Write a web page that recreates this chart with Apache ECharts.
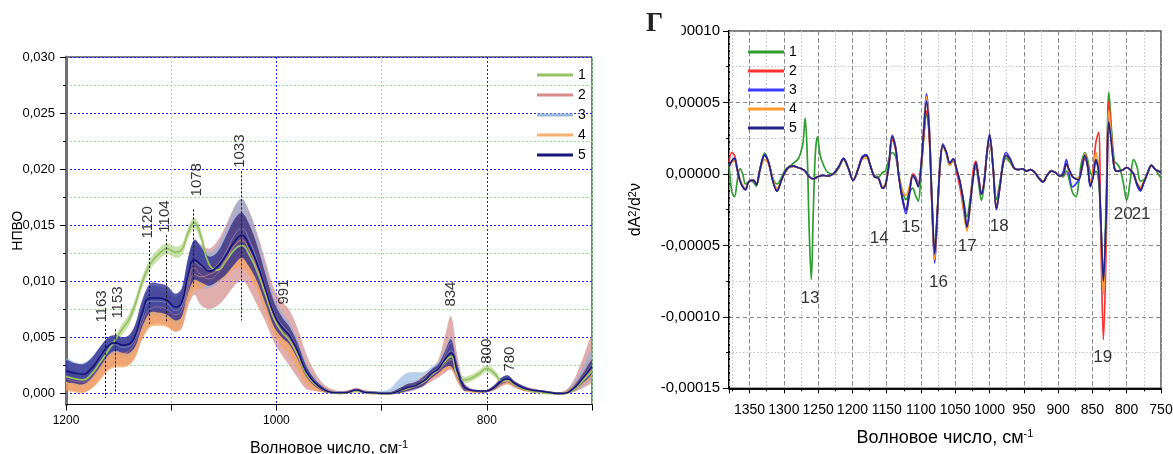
<!DOCTYPE html>
<html><head><meta charset="utf-8">
<script src="https://cdn.jsdelivr.net/npm/echarts@6/dist/echarts.min.js"></script>
<style>html,body{margin:0;padding:0;background:#fff}#c{width:1173px;height:454px}</style>
</head><body><div id="c"></div>
<script>
// ---------- LEFT PANEL (ATR spectra, mean ± spread) ----------
const LX = [1200,1192,1184,1176,1168,1160,1153,1146,1140,1134,
1128,1120,1112,1104,1096,1090,1084,1078,1072,1064,
1056,1048,1040,1033,1026,1018,1010,1002,994,988,
980,972,964,956,948,940,932,924,916,908,
900,892,884,876,868,860,852,846,840,834,
828,822,816,808,800,792,786,780,774,766,
758,750,742,734,726,718,710,700];

const G1_MEAN = [.0015,.0013,.0012,.0017,.0027,.0038,.0048,.0058,.0066,.0080,
.0098,.0115,.0124,.0129,.0126,.0128,.0143,.0152,.0141,.0115,
.0110,.0118,.0128,.0132,.0124,.0108,.0087,.0066,.0054,.0048,
.0035,.0018,.0009,.0004,.0001,.0000,.0001,.0002,.0001,.0000,
.0000,.0000,.0002,.0004,.0007,.0010,.0017,.0022,.0028,.0033,
.0016,.0012,.0013,.0017,.0022,.0017,.0011,.0011,.0008,.0004,
.0002,.0001,.0000,.0000,.0000,.0003,.0010,.0020];
const G1_HW = [.0003,.0003,.0003,.0003,.0003,.0003,.0004,.0005,.0005,.0005,
.0005,.0005,.0005,.0005,.0005,.0005,.0005,.0005,.0005,.0004,
.0003,.0003,.0003,.0003,.0003,.0003,.0003,.0003,.0003,.0003,
.0003,.0002,.0002,.0001,.0001,.0001,.0001,.0001,.0001,.0001,
.0001,.0001,.0001,.0002,.0002,.0002,.0003,.0003,.0003,.0004,
.0003,.0003,.0003,.0003,.0003,.0003,.0002,.0002,.0002,.0001,
.0001,.0001,.0001,.0001,.0001,.0001,.0002,.0003];

const R2_MEAN = [.0013,.0011,.0010,.0014,.0023,.0032,.0036,.0036,.0038,.0046,
.0062,.0075,.0077,.0075,.0070,.0074,.0097,.0112,.0106,.0102,
.0107,.0118,.0131,.0137,.0128,.0110,.0090,.0069,.0057,.0050,
.0036,.0020,.0011,.0005,.0002,.0001,.0002,.0003,.0002,.0001,
.0000,.0000,.0002,.0004,.0006,.0010,.0016,.0022,.0034,.0045,
.0022,.0006,.0003,.0002,.0002,.0005,.0009,.0011,.0008,.0005,
.0003,.0002,.0001,.0000,.0001,.0006,.0016,.0031];
const R2_HW = [.0009,.0009,.0009,.0010,.0010,.0011,.0011,.0011,.0012,.0013,
.0014,.0015,.0015,.0015,.0015,.0016,.0020,.0024,.0027,.0027,
.0029,.0032,.0035,.0036,.0035,.0032,.0027,.0024,.0024,.0025,
.0022,.0016,.0009,.0004,.0002,.0001,.0001,.0002,.0001,.0001,
.0001,.0001,.0002,.0003,.0003,.0004,.0005,.0008,.0016,.0024,
.0012,.0004,.0002,.0001,.0001,.0002,.0003,.0003,.0003,.0002,
.0002,.0001,.0001,.0001,.0001,.0005,.0012,.0020];

const B3_MEAN = [.0020,.0018,.0017,.0022,.0031,.0040,.0043,.0041,.0042,.0050,
.0067,.0082,.0082,.0080,.0074,.0078,.0102,.0117,.0113,.0110,
.0115,.0126,.0141,.0147,.0137,.0118,.0094,.0072,.0060,.0054,
.0039,.0021,.0011,.0004,.0001,.0001,.0001,.0003,.0001,.0001,
.0001,.0002,.0006,.0010,.0011,.0013,.0019,.0023,.0031,.0038,
.0021,.0006,.0003,.0002,.0002,.0006,.0011,.0013,.0009,.0005,
.0003,.0002,.0001,.0000,.0001,.0005,.0013,.0026];
const B3_HW = [.0011,.0010,.0010,.0010,.0010,.0009,.0008,.0008,.0009,.0010,
.0012,.0013,.0013,.0013,.0013,.0014,.0017,.0020,.0019,.0016,
.0017,.0021,.0025,.0027,.0025,.0022,.0018,.0014,.0011,.0010,
.0009,.0006,.0004,.0002,.0001,.0001,.0001,.0001,.0001,.0001,
.0001,.0002,.0006,.0008,.0008,.0006,.0005,.0005,.0008,.0012,
.0006,.0003,.0001,.0001,.0001,.0002,.0003,.0003,.0002,.0002,
.0001,.0001,.0001,.0001,.0001,.0004,.0008,.0012];

const O4_MEAN = [.0009,.0007,.0006,.0010,.0018,.0027,.0030,.0030,.0032,.0040,
.0055,.0066,.0067,.0066,.0062,.0067,.0092,.0106,.0104,.0106,
.0110,.0120,.0132,.0136,.0128,.0110,.0088,.0066,.0053,.0047,
.0033,.0016,.0008,.0003,.0001,.0000,.0001,.0002,.0001,.0000,
.0000,.0000,.0002,.0005,.0007,.0012,.0017,.0020,.0026,.0030,
.0016,.0005,.0002,.0001,.0002,.0005,.0009,.0011,.0008,.0004,
.0002,.0001,.0001,.0000,.0001,.0004,.0011,.0022];
const O4_HW = [.0006,.0006,.0006,.0006,.0007,.0007,.0007,.0007,.0007,.0008,
.0008,.0007,.0007,.0007,.0007,.0008,.0011,.0014,.0011,.0009,
.0011,.0016,.0021,.0024,.0023,.0020,.0017,.0014,.0012,.0012,
.0011,.0008,.0005,.0002,.0001,.0001,.0001,.0001,.0001,.0001,
.0001,.0001,.0002,.0003,.0003,.0004,.0004,.0004,.0006,.0008,
.0005,.0002,.0001,.0001,.0001,.0002,.0002,.0003,.0002,.0002,
.0001,.0001,.0001,.0001,.0001,.0003,.0005,.0006];

const N5_MEAN = [.0020,.0018,.0017,.0022,.0032,.0042,.0045,.0043,.0044,.0052,
.0070,.0085,.0085,.0083,.0077,.0081,.0105,.0119,.0115,.0109,
.0113,.0123,.0135,.0141,.0132,.0115,.0092,.0070,.0058,.0052,
.0038,.0020,.0010,.0004,.0001,.00005,.0001,.0003,.0001,.00005,
.0000,.0000,.0002,.0005,.0007,.0011,.0018,.0022,.0030,.0036,
.0020,.0006,.0003,.0002,.0002,.0006,.0011,.0013,.0009,.0005,
.0003,.0002,.0001,.0000,.0000,.0004,.0012,.0024];
const N5_HW = [.0009,.0009,.0009,.0009,.0009,.0008,.0007,.0007,.0008,.0010,
.0012,.0013,.0013,.0013,.0012,.0013,.0016,.0018,.0016,.0013,
.0013,.0017,.0020,.0020,.0019,.0016,.0013,.0011,.0009,.0008,
.0007,.0005,.0003,.0002,.0001,.0001,.0001,.0001,.0001,.0001,
.0001,.0001,.0002,.0003,.0003,.0004,.0004,.0004,.0007,.0012,
.0006,.0003,.0001,.0001,.0001,.0002,.0003,.0003,.0002,.0002,
.0001,.0001,.0001,.0001,.0001,.0002,.0004,.0006];

// left peak labels (rotated) and dotted markers
const LA_TEXT = ['1163','1153','1120','1104','1078','1033','991','834','800','780'];
const LA_WN   = [1166.2,1150.4,1122.5,1105.6,1076,1034.8,992.8,834.6,800,777.9];
const LA_VAL  = [.00775,.0081,.01525,.01577,.01905,.0216,.00904,.00885,.00375,.00305];
const LM_WN     = [1163,1153,1121,1105,1079,1033.5];
const LM_TOP    = [.0061,.0057,.0135,.0141,.0164,.0198];
const LM_BOTTOM = [-.0004,.0000,.0062,.0063,.0095,.0065];

// ---------- RIGHT PANEL (second derivative, units of 1e-5) ----------
const RX = [1380,1376,1372,1368,1364,1360,1356,1352,1348,1344,
1340,1335,1328,1322,1316,1310,1304,1298,1292,1286,
1280,1276,1272,1269,1266,1263,1260,1257,1254,1251,
1247,1242,1236,1228,1220,1213,1206,1199,1192,1186,
1180,1174,1168,1162,1156,1152,1147,1142,1137,1132,
1127,1122,1117,1112,1108,1104,1100,1096,1092,1088,
1084,1080,1076,1072,1068,1063,1058,1053,1048,1043,
1038,1033,1028,1024,1020,1016,1012,1008,1004,1000,
995,990,985,980,976,970,964,958,952,946,
940,934,928,922,916,910,904,898,893,888,
884,879,874,870,866,861,857,853,849,845,
841,838,834,830,826,822,818,814,810,805,
800,795,790,785,780,775,770,764,758,754,750];

const D1 = [0.7,-1.2,-1.6,-0.5,0.35,0.0,-0.7,-0.6,-0.5,-0.6,
-0.85,0.3,1.45,0.8,-0.3,-0.7,-0.3,0.3,0.5,0.75,
1.0,1.4,2.2,3.9,1.5,-4.0,-7.4,-2.5,1.5,2.6,
1.3,0.6,0.1,0.0,0.4,1.0,0.4,-0.4,0.3,1.1,
1.3,0.6,-0.1,-0.2,0.1,0.2,1.0,1.5,1.2,-0.2,
-1.2,-1.8,-1.3,-1.0,-1.5,-1.9,0.0,2.5,4.2,2.8,
-1.5,-5.3,-2.5,0.8,2.0,1.4,0.6,0.9,0.3,-0.6,
-1.8,-3.0,-1.6,-0.2,0.4,-0.6,-1.85,-0.8,1.4,2.6,
0.6,-1.8,-0.6,0.7,1.1,0.8,0.4,0.3,0.35,0.2,
0.3,0.1,-0.3,-0.5,-0.1,0.25,0.1,-0.1,-0.2,0.2,
-0.4,-1.3,-1.6,-0.6,0.8,1.5,1.0,0.1,-0.1,0.2,
-0.5,-3.0,-7.2,-2.0,5.7,3.0,0.9,0.7,0.4,-0.6,
-1.85,-0.5,1.0,0.5,-0.5,-0.4,0.0,0.6,0.3,0.0,-0.3];

const D2 = [0.8,1.5,1.3,0.4,-0.5,-0.9,-1.1,-0.6,-0.45,-0.45,
-0.75,0.25,1.3,0.75,-0.5,-1.2,-0.5,0.15,0.5,0.55,
0.45,0.4,0.3,0.2,0.0,-0.2,-0.3,-0.35,-0.3,-0.2,
-0.15,-0.1,-0.15,0.0,0.5,1.05,0.4,-0.45,0.3,1.1,
1.3,0.6,-0.2,-0.3,-1.0,-0.8,0.5,2.4,1.7,-0.3,
-1.8,-2.6,-1.3,0.0,-0.2,-0.7,0.3,2.6,4.4,2.6,
-2.2,-5.8,-2.6,0.6,2.0,1.5,0.7,1.0,0.1,-1.0,
-2.5,-3.8,-2.0,0.2,0.9,-0.2,-1.4,-0.6,1.4,2.6,
0.5,-2.4,-0.9,0.8,1.3,1.0,0.4,0.3,0.35,0.2,
0.3,0.1,-0.3,-0.55,-0.1,0.2,0.1,-0.15,-0.1,0.7,
0.3,-0.2,-0.35,-0.3,0.2,1.1,0.5,-0.6,0.3,2.2,
2.9,-3.5,-11.6,-5.0,5.1,2.5,0.5,0.2,0.2,0.3,
0.45,0.3,0.0,-0.7,-1.0,-0.6,0.0,0.6,0.3,0.2,0.1];

const D3 = [0.5,0.9,1.0,0.3,-0.45,-0.9,-1.1,-0.6,-0.45,-0.45,
-0.75,0.3,1.35,0.75,-0.5,-1.2,-0.5,0.15,0.5,0.55,
0.45,0.4,0.3,0.2,0.0,-0.2,-0.3,-0.35,-0.3,-0.2,
-0.15,-0.1,-0.15,0.0,0.5,1.1,0.4,-0.45,0.3,1.2,
1.35,0.6,-0.2,-0.3,-1.0,-0.8,0.6,2.7,1.9,-0.3,
-1.8,-2.8,-1.5,-0.2,-0.3,-0.7,0.6,3.3,5.6,3.4,
-2.2,-6.25,-2.8,0.8,2.1,1.5,0.75,1.05,0.3,-0.6,
-2.0,-3.6,-2.0,-0.3,0.75,-0.3,-1.4,-0.6,1.4,2.8,
0.5,-2.5,-0.9,1.0,1.5,1.1,0.4,0.3,0.35,0.2,
0.3,0.1,-0.3,-0.55,-0.1,0.2,0.1,-0.15,0.1,1.0,
0.0,-0.9,-0.7,-0.4,0.3,1.2,0.5,-0.9,-0.2,0.9,
0.2,-3.0,-7.6,-3.0,4.0,2.2,0.4,0.2,0.2,0.3,
0.45,0.3,0.0,-0.8,-1.2,-0.6,0.0,0.6,0.3,0.2,0.1];

const D4 = [0.5,0.8,0.9,0.3,-0.4,-0.8,-1.0,-0.6,-0.45,-0.45,
-0.7,0.2,1.0,0.65,-0.4,-1.0,-0.5,0.1,0.45,0.5,
0.45,0.4,0.3,0.2,0.0,-0.2,-0.3,-0.35,-0.3,-0.2,
-0.15,-0.1,-0.15,0.0,0.45,1.0,0.4,-0.4,0.3,1.0,
1.1,0.6,-0.2,-0.3,-0.9,-0.7,0.6,2.5,1.8,-0.2,
-1.2,-1.5,-0.9,-0.1,-0.4,-0.8,0.5,3.1,5.4,3.3,
-2.1,-6.0,-2.6,0.7,2.0,1.4,0.6,1.0,0.3,-0.6,
-2.4,-4.0,-2.1,-0.3,0.7,-0.3,-1.3,-0.6,1.4,2.7,
0.5,-2.3,-0.9,0.8,1.3,1.0,0.4,0.3,0.35,0.2,
0.3,0.1,-0.3,-0.5,-0.1,0.2,0.1,-0.15,-0.1,0.6,
0.2,-0.2,-0.3,-0.3,0.3,1.4,0.7,-0.6,0.0,1.5,
0.4,-3.2,-8.4,-3.5,4.45,2.3,0.4,0.2,0.2,0.3,
0.45,0.3,0.0,-0.6,-0.9,-0.5,0.0,0.6,0.3,0.2,0.1];

const D5 = [0.5,0.9,1.1,0.3,-0.45,-0.9,-1.1,-0.6,-0.45,-0.45,
-0.75,0.25,1.3,0.75,-0.5,-1.2,-0.5,0.15,0.5,0.55,
0.45,0.4,0.3,0.2,0.0,-0.2,-0.3,-0.35,-0.3,-0.2,
-0.15,-0.1,-0.15,0.0,0.5,1.05,0.4,-0.45,0.3,1.1,
1.3,0.6,-0.2,-0.3,-1.0,-0.8,0.6,2.6,1.8,-0.3,
-1.7,-2.5,-1.3,-0.1,-0.4,-0.9,0.5,3.0,5.1,3.0,
-2.0,-5.6,-2.5,0.8,2.0,1.5,0.75,1.05,0.3,-0.6,
-2.0,-3.7,-2.0,-0.3,0.75,-0.3,-1.4,-0.6,1.4,2.7,
0.5,-2.4,-0.9,0.8,1.3,1.0,0.4,0.3,0.35,0.2,
0.3,0.1,-0.3,-0.55,-0.1,0.2,0.1,-0.15,-0.1,0.7,
0.3,-0.2,-0.35,-0.4,0.3,1.3,0.6,-0.8,-0.2,1.0,
0.2,-3.0,-7.5,-3.0,3.6,2.0,0.4,0.2,0.2,0.3,
0.45,0.3,0.0,-0.7,-1.1,-0.6,0.0,0.6,0.3,0.2,0.1];

const RA_TEXT = ['13','14','15','16','17','18','19','20','21'];
const RA_WN   = [1262,1161,1115,1074.5,1032.5,986,835,805,779];
const RA_VAL  = [-8.7,-4.5,-3.75,-7.6,-5.1,-3.7,-12.8,-2.8,-2.8];

// ---------- build ----------
const FONT = '"Liberation Sans", Arial, sans-serif';
const zip = (xs, ys) => xs.map((x, i) => [x, ys[i]]);

function band(id, mean, hw, color) {
  const upper = mean.map((m, i) => m + hw[i]);
  const lower = mean.map((m, i) => m - hw[i]);
  return {
    type: 'custom', name: id, xAxisIndex: 0, yAxisIndex: 0, silent: true, emphasis: {disabled: true},
    data: zip(LX, mean), encode: {x: 0, y: 1},
    renderItem: (params, api) => {
      if (params.dataIndex !== 0) return null;
      const cs = params.coordSys;
      const pts = [];
      for (let i = 0; i < LX.length; i++) pts.push(api.coord([LX[i], upper[i]]));
      for (let i = LX.length - 1; i >= 0; i--) pts.push(api.coord([LX[i], lower[i]]));
      return {type: 'polygon',
        shape: {points: pts, smooth: 0.35, smoothConstraint: [[cs.x, cs.y], [cs.x + cs.width, cs.y + cs.height]]},
        style: {fill: color, stroke: null}};
    }
  };
}
function lline(name, ys, color, w, op) {
  return {type: 'line', name, xAxisIndex: 0, yAxisIndex: 0, data: zip(LX, ys), symbol: 'none', smooth: 0.5,
    silent: true, emphasis: {disabled: true}, itemStyle: {color}, lineStyle: {color, width: w, opacity: op}};
}
function rline(name, ys, color) {
  return {type: 'line', name, xAxisIndex: 2, yAxisIndex: 2, data: zip(RX, ys), symbol: 'none', smooth: 0.35,
    silent: true, emphasis: {disabled: true}, itemStyle: {color}, lineStyle: {color, width: 1.7}};
}

const BLUE_DOT = '#2020ff', GREEN_DOT = '#98e698';

const series = [];
series.push(band('b1', G1_MEAN, G1_HW, 'rgba(165,205,115,0.6)'));
series.push(lline('L1', G1_MEAN, '#98c165', 1.8, 1));
series.push(band('b2', R2_MEAN, R2_HW, 'rgba(206,125,125,0.62)'));
series.push(band('b3', B3_MEAN, B3_HW, 'rgba(140,175,222,0.6)'));
series.push(band('b4', O4_MEAN, O4_HW, 'rgba(246,160,85,0.65)'));
series.push(lline('L2', R2_MEAN, '#d88a8a', 1, 0.5));
series.push(lline('L3', B3_MEAN, '#9bb9dd', 1, 0.5));
series.push(lline('L4', O4_MEAN, '#f6b173', 1, 0.5));
series.push(band('b5', N5_MEAN, N5_HW, 'rgba(38,38,140,0.75)'));
series.push(lline('L5', N5_MEAN, '#15157a', 1.6, 1));
series.push({
  type: 'scatter', name: 'lab', xAxisIndex: 0, yAxisIndex: 0, silent: true, emphasis: {disabled: true},
  data: LA_TEXT.map((t, i) => ({name: t, value: [LA_WN[i], LA_VAL[i]]})),
  symbolSize: 0.01, itemStyle: {color: 'rgba(0,0,0,0)'}, z: 5,
  label: {show: true, position: 'inside', rotate: 90, formatter: p => p.name, fontSize: 15, color: '#000', fontFamily: FONT},
  markLine: {silent: true, symbol: ['none', 'none'], label: {show: false}, animation: false,
    lineStyle: {color: '#000', type: [2, 2], width: 1}, emphasis: {disabled: true},
    data: LM_WN.map((x, i) => [{coord: [x, LM_TOP[i]]}, {coord: [x, LM_BOTTOM[i]]}])}
});
series.push(rline('R1', D1, '#2e9e2e'));
series.push(rline('R2', D2, '#ff3030'));
series.push(rline('R3', D3, '#3c3cff'));
series.push(rline('R4', D4, '#ff9a30'));
series.push(rline('R5', D5, '#232388'));
series.push({
  type: 'scatter', name: 'rlab', xAxisIndex: 2, yAxisIndex: 2, silent: true, emphasis: {disabled: true},
  data: RA_TEXT.map((t, i) => ({name: t, value: [RA_WN[i], RA_VAL[i]]})),
  symbolSize: 0.01, itemStyle: {color: 'rgba(0,0,0,0)'},
  label: {show: true, position: 'inside', formatter: p => p.name, fontSize: 17, color: '#000', fontFamily: FONT}
});

const nameRich = {s: {fontSize: 11, verticalAlign: 'top', lineHeight: 11, fontFamily: FONT, color: '#000'}};
const legendCommon = {orient: 'vertical', itemWidth: 36, itemHeight: 3, icon: 'rect', selectedMode: false,
  formatter: n => n.slice(1), textStyle: {fontSize: 14, fontFamily: FONT, color: '#000', lineHeight: 14}};

const option = {
  animation: false,
  textStyle: {fontFamily: FONT},
  grid: [
    {left: 66, top: 57, width: 526, height: 347.5, show: true, borderColor: '#000', borderWidth: 1,
     containLabel: false, outerBoundsMode: 'none'},
    {left: 66, top: 57, width: 526, height: 336.3, show: false, containLabel: false, outerBoundsMode: 'none'},
    {left: 729, top: 31, width: 432, height: 357.3, show: true, borderColor: '#555', borderWidth: 1.5,
     containLabel: false, outerBoundsMode: 'none'}
  ],
  legend: [
    Object.assign({data: ['L1','L2','L3','L4','L5'], left: 532, top: 63, itemGap: 6}, legendCommon),
    Object.assign({data: ['R1','R2','R3','R4','R5'], left: 743, top: 40, itemGap: 5}, legendCommon)
  ],
  xAxis: [
    {gridIndex: 0, type: 'value', min: 700, max: 1200, interval: 100, inverse: true,
     axisLine: {onZero: false, lineStyle: {color: '#000', width: 1}},
     axisTick: {show: true, length: 6, lineStyle: {color: '#000'}},
     axisLabel: {formatter: v => (v % 200 === 0 ? String(v) : ''), fontSize: 12, margin: 10, color: '#000'},
     splitLine: {show: true, lineStyle: {color: [GREEN_DOT, BLUE_DOT], type: [2, 2], width: 1}},
     name: 'Волновое число, см{s|-1}', nameLocation: 'middle', nameGap: 35,
     nameTextStyle: {fontSize: 16, color: '#000', lineHeight: 18, rich: nameRich}},
    {gridIndex: 1, type: 'value', min: 700, max: 1200, inverse: true, show: false,
     splitLine: {show: false}, axisLine: {show: false}, axisTick: {show: false}, axisLabel: {show: false}},
    {gridIndex: 2, type: 'value', min: 750, max: 1380, interval: 50, inverse: true, z: 3,
     axisLine: {onZero: false, lineStyle: {color: '#000', width: 1.5}},
     axisTick: {show: true, length: 5, lineStyle: {color: '#000'}},
     axisLabel: {formatter: v => (v % 50 === 0 ? String(v) : ''), fontSize: 14, margin: 15, color: '#000'},
     splitLine: {show: true, lineStyle: {color: '#8a8a8a', type: [4, 3], width: 1}},
     name: 'Волновое число, см{s|-1}', nameLocation: 'middle', nameGap: 40,
     nameTextStyle: {fontSize: 18, color: '#000', lineHeight: 20, rich: nameRich}},
    {gridIndex: 2, type: 'value', min: 750, max: 1380, interval: 25, inverse: true, position: 'bottom', z: 1,
     axisLine: {onZero: false, lineStyle: {color: '#000', width: 1.5}},
     axisTick: {show: true, length: 3, lineStyle: {color: '#000'}},
     axisLabel: {show: false},
     splitLine: {show: true, lineStyle: {color: '#c4c4c4', type: [1.5, 2], width: 1}}}
  ],
  yAxis: [
    {gridIndex: 0, type: 'value', min: -0.001, max: 0.03,
     axisLine: {show: true, lineStyle: {color: '#707070', width: 3}},
     axisTick: {show: false}, axisLabel: {show: false}, splitLine: {show: false},
     name: 'НПВО', nameLocation: 'middle', nameGap: 41, nameTextStyle: {fontSize: 14, color: '#000'}},
    {gridIndex: 1, type: 'value', min: 0, max: 0.03, interval: 0.005,
     axisLine: {show: false},
     axisTick: {show: true, length: 6, lineStyle: {color: '#000'}},
     minorTick: {show: true, splitNumber: 2, length: 3, lineStyle: {color: '#000'}},
     axisLabel: {formatter: v => v.toFixed(3).replace('.', ','), fontSize: 13, margin: 11, color: '#000'},
     splitLine: {show: true, lineStyle: {color: BLUE_DOT, type: [2, 2], width: 1}},
     minorSplitLine: {show: true, lineStyle: {color: GREEN_DOT, type: [2, 2], width: 1}}},
    {gridIndex: 2, type: 'value', min: -15, max: 10, interval: 5,
     axisLine: {show: true, lineStyle: {color: '#000', width: 2}},
     axisTick: {show: true, length: 6, lineStyle: {color: '#000'}},
     minorTick: {show: true, splitNumber: 2, length: 3, lineStyle: {color: '#000'}},
     axisLabel: {formatter: v => (Math.abs(v) < 1e-9 ? '0,00000' : (v * 1e-5).toFixed(5).replace('.', ',')),
       fontSize: 15, margin: 9, color: '#000'},
     splitLine: {show: true, lineStyle: {color: '#8a8a8a', type: [4, 3], width: 1}},
     minorSplitLine: {show: true, lineStyle: {color: '#c4c4c4', type: [1.5, 2], width: 1}},
     name: 'dA{s|2}/d{s|2}ν', nameLocation: 'middle', nameGap: 84,
     nameTextStyle: {fontSize: 16, color: '#000', lineHeight: 18, rich: nameRich}}
  ],
  graphic: [
    {type: 'rect', shape: {x: 660, y: 21, width: 21.5, height: 20}, style: {fill: '#fff'}, z: 100, silent: true},
    {type: 'text', x: 646, y: 11, z: 101, silent: true,
     style: {text: 'Г', fontFamily: '"Liberation Serif", "DejaVu Serif", serif', fontWeight: 'bold', fontSize: 27, fill: '#222'}}
  ],
  series
};
const chart = echarts.init(document.getElementById('c'));
chart.setOption(option);
</script>
</body></html>
